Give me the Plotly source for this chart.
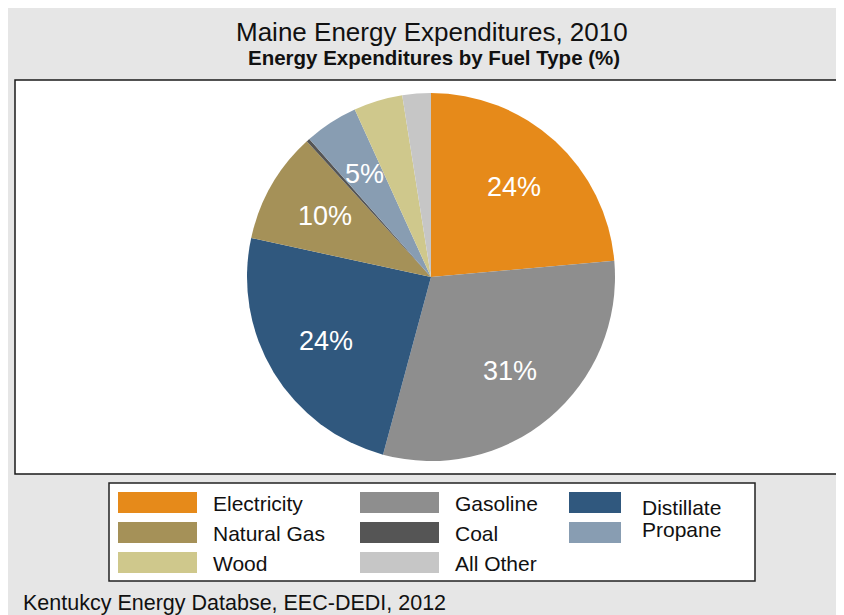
import math
import plotly.graph_objects as go

# ---- data ----
fuels = ["Electricity", "Gasoline", "Distillate", "Natural Gas", "Coal", "Propane", "Wood", "All Other"]
shares = [23.6, 30.6, 24.2, 9.8, 0.3, 4.7, 4.3, 2.5]
colors = ["#E68A1A", "#8E8E8E", "#30587E", "#A59158", "#555555", "#889DB2", "#CFC88C", "#C6C6C6"]
legend_order = [["Electricity", "Gasoline", "Distillate"],
                ["Natural Gas", "Coal", "Propane"],
                ["Wood", "All Other"]]

title = "Maine Energy Expenditures, 2010"
subtitle = "Energy Expenditures by Fuel Type (%)"
source = "Kentukcy Energy Databse, EEC-DEDI, 2012"

# page geometry (the figure sits 8px in from the page's top-left corner)
OFF = 8
W, H = 836, 607                 # figure size
L, T, B = 15, 80, 474           # plot box in page px
PW = W - (L - OFF)
PH = B - T
FONT = "Liberation Sans, Arial, sans-serif"


def px(x):
    return (x - L) / PW


def py(y):
    return (B - y) / PH


# pie geometry (page px)
CX, CY, R = 431, 277, 184
dom_x = [px(CX - R), px(CX + R)]
dom_y = [py(CY + R), py(CY - R)]

fig = go.Figure()
fig.add_trace(go.Pie(
    labels=fuels, values=shares, sort=False, direction="clockwise", rotation=0,
    marker=dict(colors=colors, line=dict(width=0)),
    textinfo="none", hoverinfo="label+percent", showlegend=False,
    domain=dict(x=dom_x, y=dom_y),
))

shapes = []
annotations = []

# white plot box (its right side runs past the page edge)
shapes.append(dict(type="rect", xref="paper", yref="paper", layer="below",
                   x0=0, x1=px(W + 40), y0=0, y1=1,
                   fillcolor="white", line=dict(color="#1a1a1a", width=1.5)))

# slice labels (computed from the data)
total = sum(shares)
cum = 0.0
for name, v in zip(fuels, shares):
    mid = (cum + v / 2) / total * 2 * math.pi
    cum += v
    if v < 4.5:
        continue
    lx = CX + 0.665 * R * math.sin(mid)
    ly = CY - 0.665 * R * math.cos(mid)
    annotations.append(dict(x=px(lx), y=py(ly), xref="paper", yref="paper",
                            text=f"{v:.0f}%", showarrow=False,
                            font=dict(family=FONT, size=27, color="white"),
                            xanchor="center", yanchor="middle"))

# legend box
shapes.append(dict(type="rect", xref="paper", yref="paper",
                   x0=px(109), x1=px(755), y0=py(581), y1=py(483),
                   fillcolor="white", line=dict(color="#222222", width=1.5)))
col_sw = [(118, 197), (360, 439), (569, 621)]
col_tx = [211, 453, 640]
row_sw = [(492, 513), (522, 543), (552, 573)]
text_dy = {(0, 2): 4, (1, 2): -4}
cmap = dict(zip(fuels, colors))
for r, row in enumerate(legend_order):
    for c, name in enumerate(row):
        x0, x1 = col_sw[c]
        y0, y1 = row_sw[r]
        shapes.append(dict(type="rect", xref="paper", yref="paper",
                           x0=px(x0), x1=px(x1), y0=py(y1), y1=py(y0),
                           fillcolor=cmap[name], line=dict(width=0)))
        ty = (y0 + y1) / 2 + 1 + text_dy.get((r, c), 0)
        annotations.append(dict(x=px(col_tx[c]), y=py(ty), xref="paper", yref="paper",
                                text=name, showarrow=False, xanchor="left", yanchor="middle",
                                font=dict(family=FONT, size=21, color="#111111")))

# titles and source
annotations.append(dict(x=px(432), y=py(32), xref="paper", yref="paper", text=title,
                        showarrow=False, xanchor="center", yanchor="middle",
                        font=dict(family=FONT, size=26, color="#111111")))
annotations.append(dict(x=px(434), y=py(57), xref="paper", yref="paper", text=f"<b>{subtitle}</b>",
                        showarrow=False, xanchor="center", yanchor="middle",
                        font=dict(family=FONT, size=20.5, color="#111111")))
annotations.append(dict(x=px(21), y=py(603), xref="paper", yref="paper", text=source,
                        showarrow=False, xanchor="left", yanchor="middle",
                        font=dict(family=FONT, size=21.5, color="#111111")))

fig.update_layout(
    width=W, height=H, autosize=False,
    margin=dict(l=L - OFF, r=0, t=T - OFF, b=H - (B - OFF), pad=0),
    paper_bgcolor="#E6E6E6", plot_bgcolor="white",
    shapes=shapes, annotations=annotations, showlegend=False,
    font=dict(family=FONT),
)

fig.write_html(
    "out.html",
    post_script="document.documentElement.style.overflow='hidden';document.body.style.overflow='hidden';",
)
